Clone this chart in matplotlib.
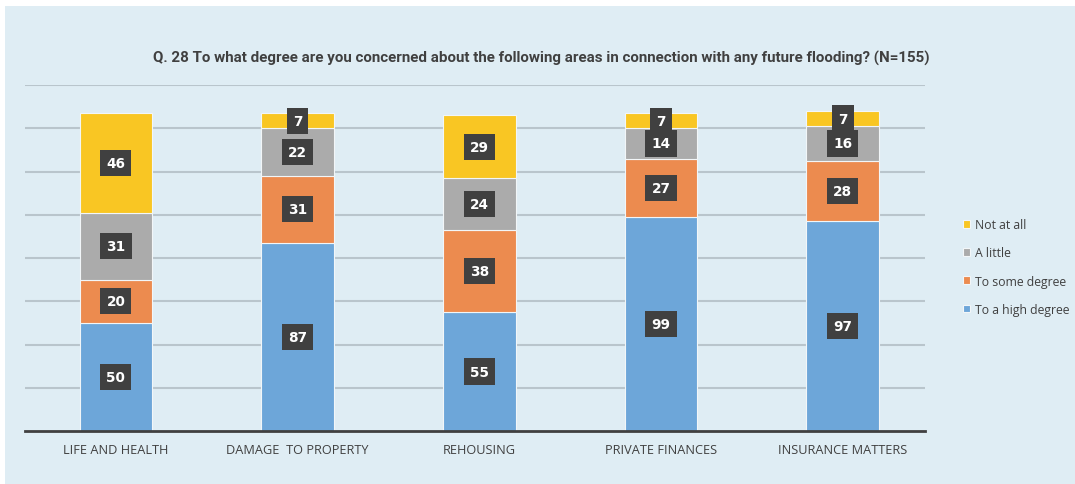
import numpy as np
import matplotlib.pyplot as plt
from matplotlib.patches import Rectangle

categories = ['LIFE AND HEALTH', 'DAMAGE  TO PROPERTY', 'REHOUSING',
              'PRIVATE FINANCES', 'INSURANCE MATTERS']
high_degree = [50, 87, 55, 99, 97]
some_degree = [20, 31, 38, 27, 28]
a_little = [31, 22, 24, 14, 16]
not_at_all = [46, 7, 29, 7, 7]

series = [('To a high degree', high_degree, '#6DA6D9'),
          ('To some degree', some_degree, '#EC8B4F'),
          ('A little', a_little, '#ABABAB'),
          ('Not at all', not_at_all, '#F9C623')]

title = 'Q. 28 To what degree are you concerned about the following areas in connection with any future flooding? (N=155)'

panel = '#DFEDF4'
dark = '#404040'

fig = plt.figure(figsize=(10.75, 4.85), dpi=100)
fig.patch.set_facecolor('white')
fig.patches.append(Rectangle((5 / 1075, 0), 1, 1 - 7 / 485, transform=fig.transFigure,
                             facecolor=panel, edgecolor='none', zorder=-10))

ax = fig.add_axes([25 / 1075, 1 - 432 / 485, 900 / 1075, 346 / 485])
ax.set_facecolor('none')

x = np.arange(len(categories))
bottom = np.zeros(len(categories))
bars = []
for name, vals, color in series:
    b = ax.bar(x, vals, width=0.40, bottom=bottom, color=color, label=name,
               edgecolor='#F2F6F8', linewidth=0.8, zorder=3)
    for xi, v, b0 in zip(x, vals, bottom):
        ax.text(xi, b0 + v / 2, str(v), ha='center', va='center', color='white',
                fontsize=9.8, fontweight='bold', zorder=5,
                bbox=dict(boxstyle='square,pad=0.45', facecolor=dark, edgecolor='none'))
    bottom += np.array(vals)
    bars.append(b)

# gridlines stop a little short of the last slot
ax.set_xlim(-0.5, 4.453)
ax.set_ylim(0, 160)
ax.set_yticks(np.arange(20, 161, 20))
ax.yaxis.grid(True, color='#B9C5CC', linewidth=1.5, zorder=1)
ax.set_yticklabels([])
ax.tick_params(axis='y', length=0)
ax.tick_params(axis='x', length=0, pad=9)
ax.set_xticks(x)
ax.set_xticklabels(categories, fontsize=9.2, color=dark, family='Open Sans')
for s in ['top', 'right', 'left']:
    ax.spines[s].set_visible(False)
ax.spines['bottom'].set_color(dark)
ax.spines['bottom'].set_linewidth(2)
ax.spines['bottom'].set_zorder(4)

fig.text(541 / 1075, 1 - 58 / 485, title, ha='center', va='center',
         fontsize=10.9, fontweight='bold', color=dark, family='Roboto')

handles = bars[::-1]
labels = [s[0] for s in series][::-1]
ax.legend(handles, labels, loc='center left', bbox_to_anchor=(952 / 1075, 1 - 268 / 485),
          bbox_transform=fig.transFigure, frameon=False,
          handlelength=0.6, handleheight=0.6, handletextpad=0.4, labelspacing=1.25,
          labelcolor=dark, prop={'family': 'Open Sans', 'size': 8.8})

fig.savefig('out.png', dpi=100, facecolor=fig.get_facecolor())
